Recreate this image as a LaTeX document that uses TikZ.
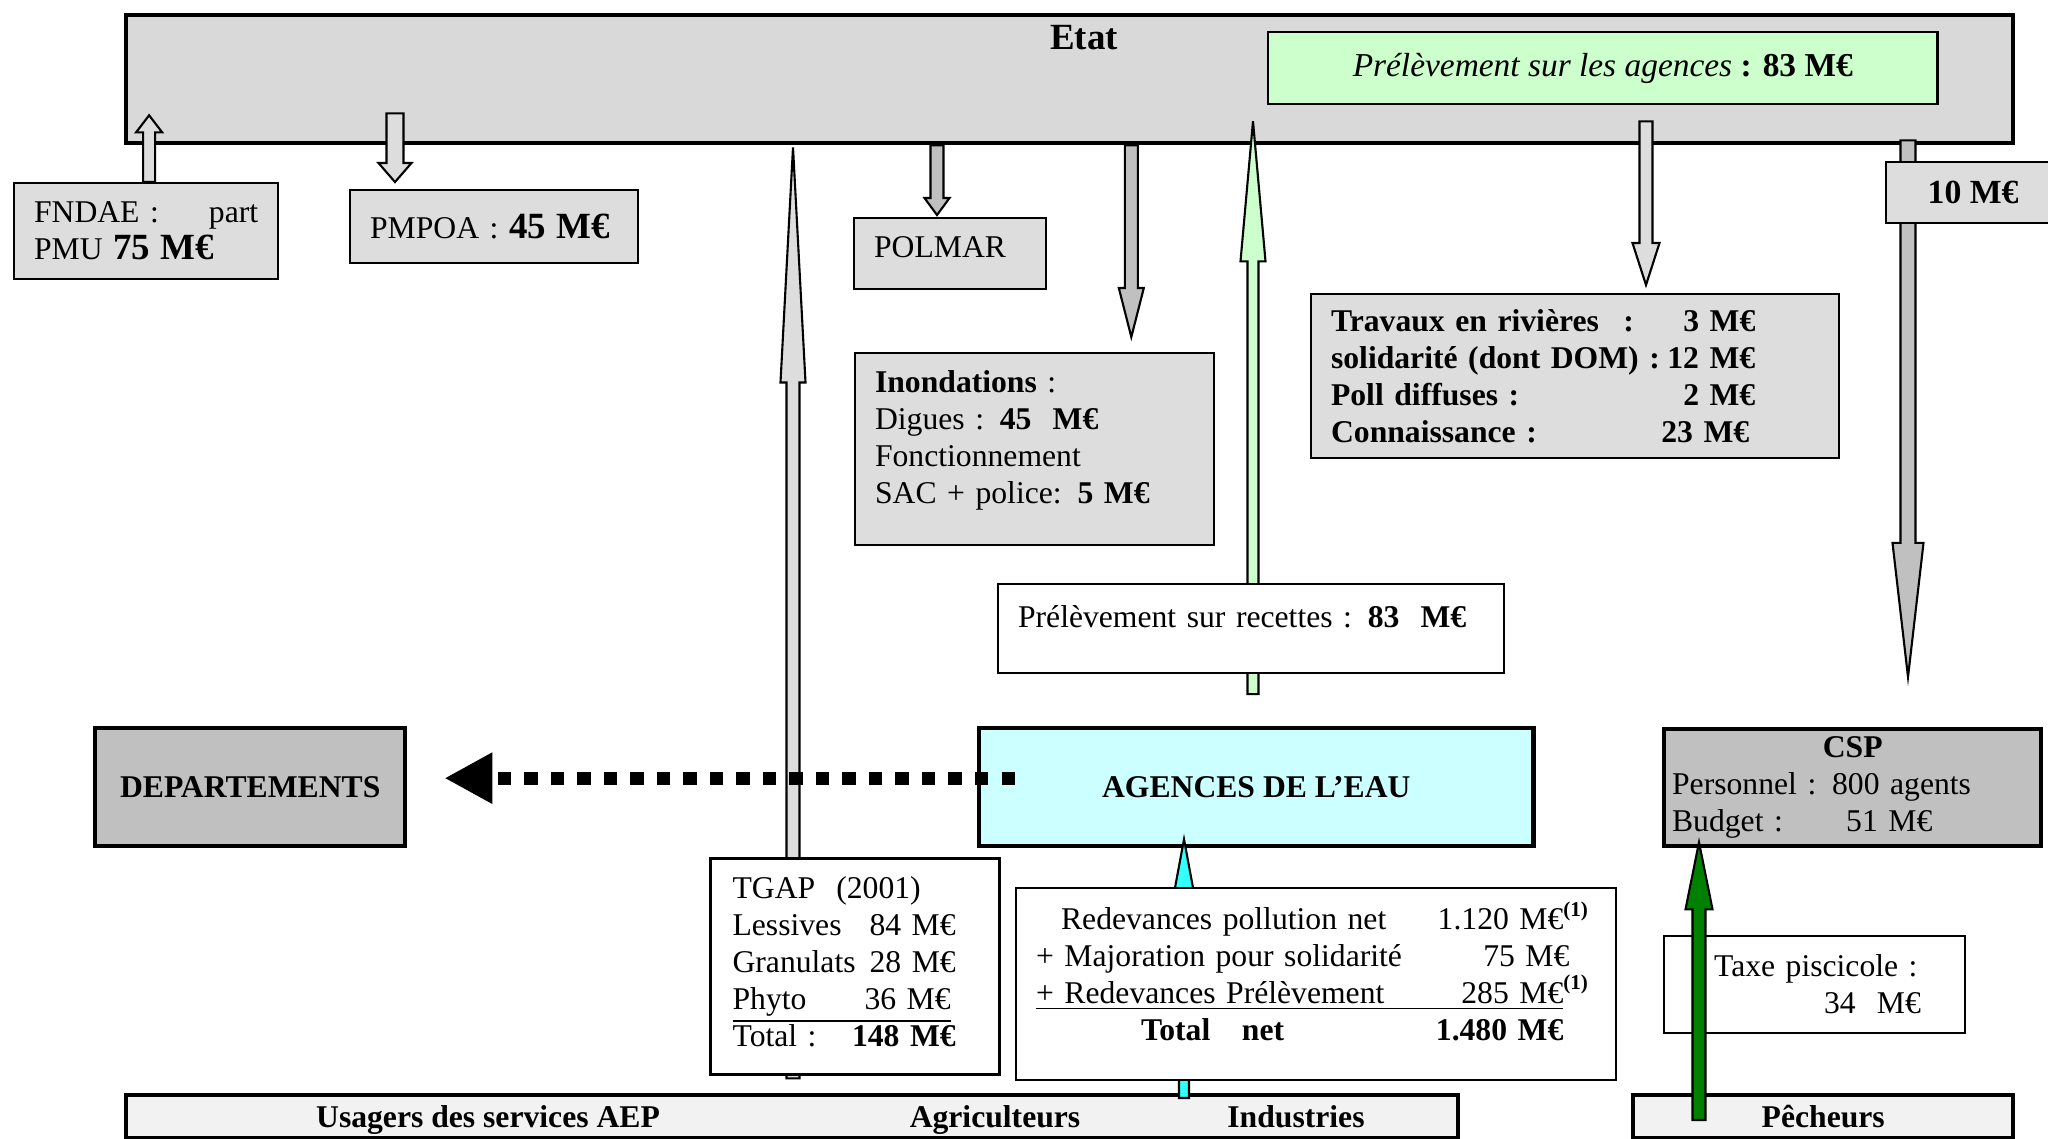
\documentclass[tikz,border=0pt]{standalone}
\usepackage{fontspec}
\setmainfont{Liberation Serif}
\usepackage{tikz}
\usetikzlibrary{calc}
\usetikzlibrary{arrows.meta}
\usepackage{color}
\definecolor{Etat-gray}{RGB}{217,217,217}
\definecolor{Box-gray}{RGB}{221,221,221}
\definecolor{Dark-gray}{RGB}{192,192,192}
\definecolor{Pale-green}{RGB}{204,255,204}
\definecolor{Pale-cyan}{RGB}{204,255,255}
\definecolor{Flow-cyan}{RGB}{51,255,255}
\definecolor{Fish-green}{RGB}{0,128,0}
\definecolor{Band-gray}{RGB}{242,242,242}

\newcommand{\nfont}{\fontsize{9}{10.5}\selectfont}
\newcommand{\bigval}[1]{\textbf{\fontsize{10.5}{12}\selectfont #1}}
\newcommand{\blockflow}[6][]{%
  \path[#1] let \p1=#2, \p2=#3, \n1={sign(\y2-\y1)*#6} in
    ({\x1-#4},\y1) -- ({\x1-#4},{\y2-(\n1)}) -- ({\x1-#5},{\y2-(\n1)}) -- (\x1,\y2)
    -- ({\x1+#5},{\y2-(\n1)}) -- ({\x1+#4},{\y2-(\n1)}) -- ({\x1+#4},\y1) -- cycle;}

\pgfdeclarelayer{front}
\pgfsetlayers{main,front}

\begin{document}
\begin{tikzpicture}[x=0.01cm, y=-0.01cm, every node/.style={font=\nfont}]
    \tikzset{ tbox/.style ={draw, line width=0.6pt, anchor=north west, inner ysep=0pt, align=left} }
    \tikzset{ hbox/.style ={draw, line width=1.2pt, anchor=north west, inner sep=0pt} }
    \tikzset{ pale/.style ={draw, line width=0.6pt, fill=Box-gray} }
    \tikzset{ dark/.style ={draw, line width=0.6pt, fill=Dark-gray} }
    \tikzset{ greenf/.style={draw, line width=0.6pt, fill=Pale-green} }
    \tikzset{ cyanf/.style ={draw, line width=0.6pt, fill=Flow-cyan} }
    \tikzset{ fishf/.style ={draw, line width=0.6pt, fill=Fish-green} }
    \tikzset{ cell/.style  ={anchor=base, font=\nfont\bfseries} }
    \useasboundingbox (0,0) rectangle (2048,1138);

    \node[hbox, fill=Etat-gray, minimum width=18.86cm, minimum height=1.28cm] (etat) at (124,13) {};
    \node[font=\fontsize{10.5}{12}\selectfont\bfseries] (etat_t) at (1084,38) {Etat};
    \node[tbox, fill=Pale-green, minimum width=6.69cm, minimum height=0.72cm, align=center, font=\fontsize{9.5}{11}\selectfont] (prelev) at (1267,31) {\textit{Prélèvement sur les agences} \textbf{: 83 M€}};

    \node[tbox, fill=Box-gray, minimum height=0.96cm, text width=2.24cm, inner xsep=0.2cm] (fndae) at (13,182) {\makebox[2.24cm]{FNDAE :\hfill part}\\PMU \bigval{75 M€}};
    \node[tbox, fill=Box-gray, minimum height=0.73cm, text width=2.48cm, inner xsep=0.2cm] (pmpoa) at (349,189) {PMPOA : \bigval{45 M€}};
    \node[tbox, fill=Box-gray, minimum height=0.71cm, text width=1.52cm, inner xsep=0.2cm, text depth=4pt] (polmar) at (853,217) {POLMAR};
    \node[tbox, fill=Box-gray, minimum height=1.92cm, text width=3.19cm, inner xsep=0.2cm] (inond) at (854,352) {\textbf{Inondations} :\\Digues : \textbf{45\ \ M€}\\Fonctionnement\\SAC + police: \textbf{5 M€}\par\kern0.18cm};
    \node[tbox, fill=Box-gray, minimum height=1.64cm, text width=4.88cm, inner xsep=0.2cm, font=\nfont\bfseries] (travaux) at (1310,293) {%
      \makebox[4.24cm]{\makebox[2.92cm][l]{Travaux en rivières}:\hfill 3 M€}\\
      \makebox[4.24cm]{solidarité (dont DOM) :\hfill 12 M€}\\
      \makebox[4.24cm]{Poll diffuses :\hfill 2 M€}\\
      \makebox[4.24cm]{Connaissance :\hfill 23 M€\hspace*{0.06cm}}};

    \node[hbox, fill=Dark-gray, minimum width=3.10cm, minimum height=1.18cm, font=\nfont\bfseries] (depts) at (93,726) {DEPARTEMENTS};
    \node[hbox, fill=Pale-cyan, minimum width=5.54cm, minimum height=1.18cm, font=\nfont\bfseries] (agences) at (977,726) {AGENCES DE L’EAU};
    \node[hbox, fill=Dark-gray, minimum width=3.77cm, minimum height=1.17cm, text width=3.61cm, inner xsep=0.08cm, align=left] (csp) at (1662,727) {\makebox[3.61cm]{\textbf{CSP}}\\Personnel : 800 agents\\\makebox[1.74cm][l]{Budget :}51 M€};
    \node[tbox, fill=white, minimum height=0.97cm, text width=2.45cm, inner xsep=0.28cm] (taxe) at (1663,935) {\hspace*{0.22cm}Taxe piscicole :\\\hspace*{1.32cm}34\ \ M€};

    \node[hbox, fill=Band-gray, minimum width=13.31cm, minimum height=0.43cm] (users) at (124,1093) {};
    \node[cell] (aep) at (488,1127) {Usagers des services AEP};
    \node[cell] (agri) at (995,1127) {Agriculteurs};
    \node[cell] (indus) at (1296,1127) {Industries};
    \node[hbox, fill=Band-gray, minimum width=3.80cm, minimum height=0.43cm, font=\nfont\bfseries] (pech) at (1631,1093) {Pêcheurs};

    \begin{pgfonlayer}{front}
    \node[tbox, fill=Box-gray, minimum width=1.74cm, minimum height=0.61cm, align=center, font=\fontsize{9.6}{11}\selectfont\bfseries] (dix) at (1885,161) {10 M€};
    \node[tbox, fill=white, minimum height=0.89cm, text width=4.66cm, inner xsep=0.2cm, text depth=7pt] (recettes) at (997,583) {Prélèvement sur recettes : \textbf{83\ \ M€}};
    \node[tbox, fill=white, line width=0.9pt, minimum height=2.16cm, text width=2.45cm, inner xsep=0.22cm] (tgap) at (709,857) {%
      TGAP\ \ (2001)\\
      \makebox[2.23cm]{Lessives\hfill 84 M€}\\
      \makebox[2.23cm]{Granulats\hfill 28 M€}\\
      \underline{\makebox[2.18cm]{Phyto\hfill 36 M€}}\\
      \makebox[2.23cm]{Total :\hfill\textbf{148 M€}}\par\kern0.1cm};
    \node[tbox, fill=white, minimum height=1.92cm, text width=5.6cm, inner xsep=0.2cm] (redev) at (1015,887) {%
      \makebox[5.27cm]{\hspace*{0.25cm}Redevances pollution net\hfill 1.120 M€}\rlap{\textsuperscript{\textbf{(1)}}}\\
      \makebox[5.27cm]{+ Majoration pour solidarité\hfill 75 M€\hspace*{-0.06cm}}\\
      \underline{\makebox[5.27cm]{+ Redevances Prélèvement\hfill 285 M€}}\rlap{\textsuperscript{\textbf{(1)}}}\\
      \makebox[5.27cm]{\hspace*{1.05cm}\textbf{Total\ \ \ net}\hfill\textbf{1.480 M€}}\par\kern0.26cm};
    \end{pgfonlayer}

    \blockflow[pale]{($(fndae.north)+(3,0)$)}{($(fndae.north |- etat.south)+(3,-30)$)}{0.06cm}{0.13cm}{0.17cm}
    \blockflow[pale]{($(pmpoa.north west |- etat.south)+(46,-32)$)}{($(pmpoa.north west)+(46,-7)$)}{0.085cm}{0.165cm}{0.19cm}
    \blockflow[pale]{($(tgap.south west)+(84,2)$)}{($(tgap.north west |- etat.south)+(84,2)$)}{0.065cm}{0.125cm}{2.35cm}
    \blockflow[dark]{($(polmar.north west |- etat.south)+(84,0)$)}{($(polmar.north west)+(84,-2)$)}{0.065cm}{0.125cm}{0.17cm}
    \blockflow[dark]{($(inond.north east |- etat.south)+(-84,0)$)}{($(inond.north east)+(-84,-15)$)}{0.065cm}{0.125cm}{0.49cm}
    \blockflow[greenf]{($(recettes.south west)+(256,20)$)}{($(recettes.north west |- etat.south)+(256,-24)$)}{0.055cm}{0.125cm}{1.40cm}
    \blockflow[pale]{($(travaux.north west |- etat.south)+(336,-24)$)}{($(travaux.north west)+(336,-8)$)}{0.065cm}{0.135cm}{0.42cm}
    \blockflow[dark]{($(dix.north west |- etat.south)+(23,-5)$)}{($(csp.north west)+(246,-50)$)}{0.075cm}{0.155cm}{1.34cm}
    \blockflow[cyanf]{($(users.north west)+(1060,5)$)}{($(agences.south west)+(207,-9)$)}{0.05cm}{0.13cm}{0.70cm}
    \blockflow[fishf]{($(pech.north west)+(68,27)$)}{($(csp.south west)+(37,-6)$)}{0.065cm}{0.135cm}{0.67cm}

    \draw[line width=0.13cm, dash pattern=on 0.135cm off 0.13cm, -{Triangle[length=0.48cm, width=0.48cm]}] ($(agences.west)+(38,-9)$) -- ($(depts.east)+(37,-9)$);

\end{tikzpicture}
\end{document}
